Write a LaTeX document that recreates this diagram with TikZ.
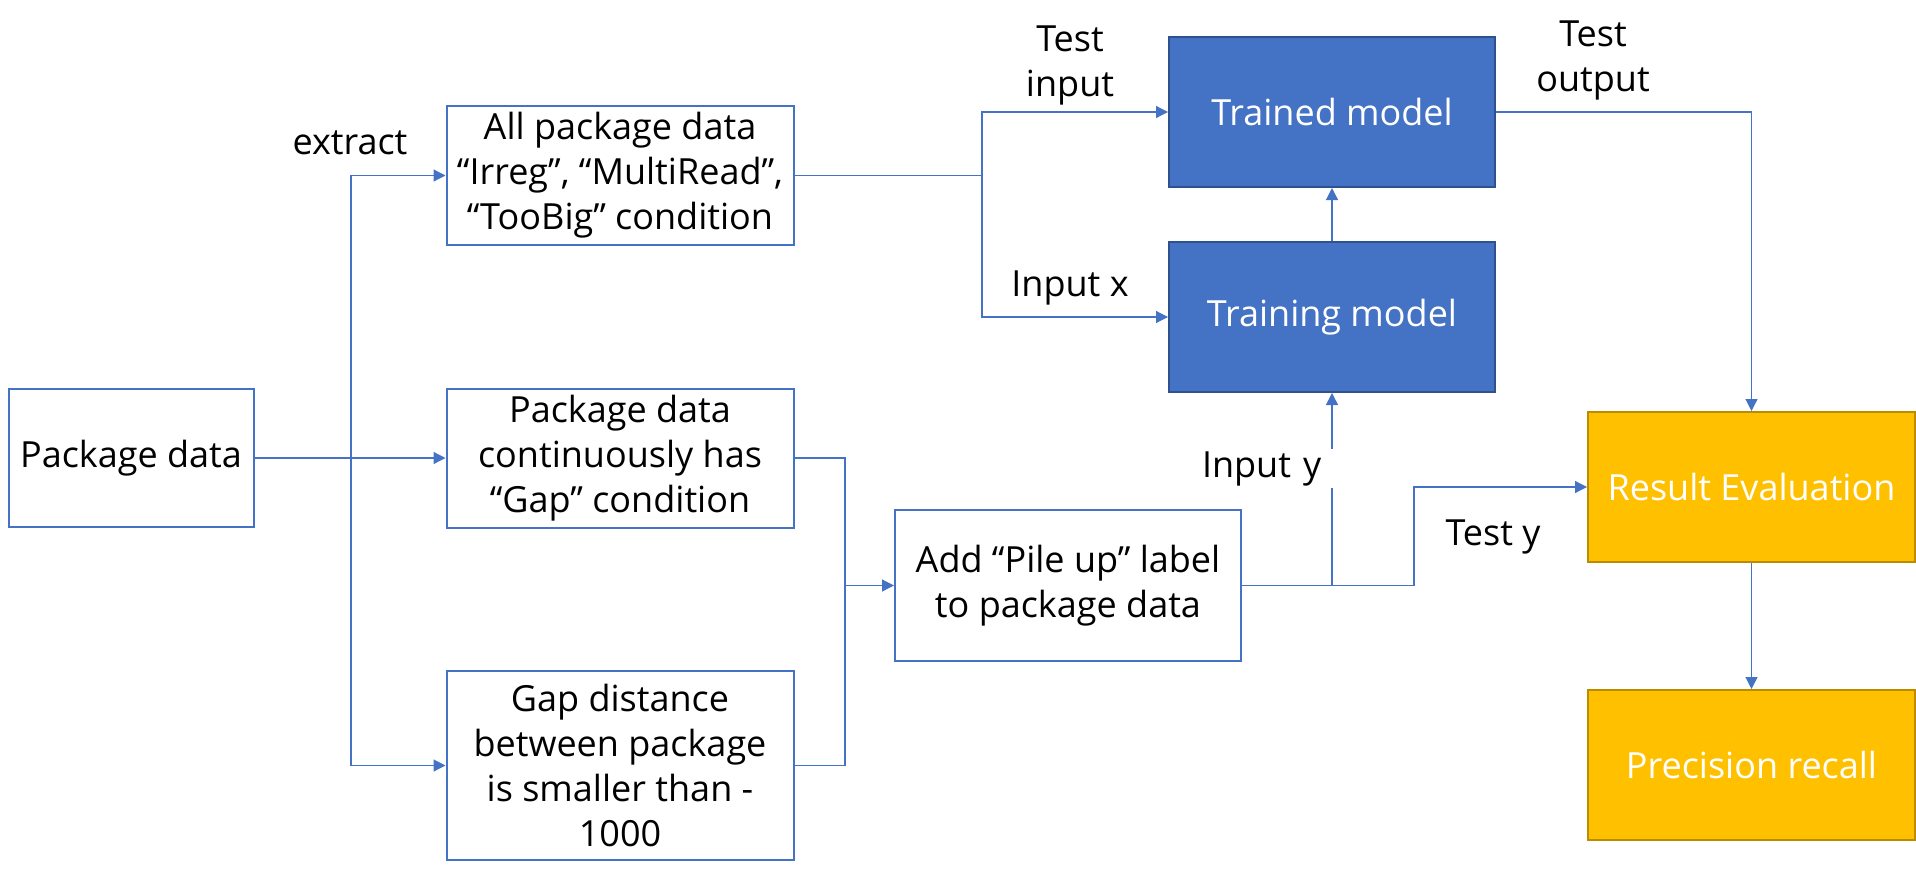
\documentclass[tikz,border=0pt]{standalone}
\usepackage{fontspec}
\setmainfont{Open Sans}
\usetikzlibrary{arrows.meta}
\definecolor{ablue}{HTML}{4472C4}
\definecolor{dblue}{HTML}{2F528F}
\definecolor{ayel}{HTML}{FFC000}
\definecolor{dyel}{HTML}{BC8C00}
\begin{document}
\begin{tikzpicture}[x=0.5pt,y=-0.5pt,
  txt/.style={font=\fontsize{18pt}{22.5pt}\selectfont},
  basebox/.style={txt, line width=1pt, align=center, inner sep=0pt},
  wbox/.style={basebox, draw=ablue, fill=white},
  bbox/.style={basebox, draw=dblue, fill=ablue, text=white},
  ybox/.style={basebox, draw=dyel, fill=ayel, text=white},
  conn/.style={draw=ablue, line width=0.6pt},
  arr/.style={conn, -{Triangle[length=6pt,width=6pt]}},
  lbl/.style={txt, inner sep=0pt, align=center}]
\useasboundingbox (0,0) rectangle (1916,878);

\node[wbox, minimum width=122.5pt, minimum height=69pt] (pkg) at (131,458) {Package data};
\node[wbox, minimum width=173.5pt, minimum height=69.5pt] (all) at (620,175.5) {All package data\\“Irreg”, “MultiRead”,\\“TooBig” condition};
\node[wbox, minimum width=173.5pt, minimum height=69.5pt] (cont) at (620,458) {Package data\\continuously has\\“Gap” condition};
\node[wbox, minimum width=173.5pt, minimum height=94.5pt] (gapd) at (620,765.5) {Gap distance\\between package\\is smaller than -\\1000};
\node[wbox, minimum width=173pt, minimum height=75.5pt] (add) at (1068,585.5) {Add “Pile up” label\\to package data};
\node[bbox, minimum width=163pt, minimum height=75pt] (trained) at (1332,112) {Trained model};
\node[bbox, minimum width=163pt, minimum height=75pt] (training) at (1332,317) {Training model};
\node[ybox, minimum width=163.5pt, minimum height=75pt] (result) at (1751.5,487) {Result Evaluation};
\node[ybox, minimum width=163.5pt, minimum height=75pt] (prec) at (1751.5,765) {Precision recall};

\coordinate (ex) at (351,0);
\coordinate (sp) at (982,0);
\coordinate (mg) at (845,0);
\coordinate (tj) at (1414,0);

\draw[arr] (pkg.east) -- (cont.west);
\draw[arr] (pkg.east -| ex) |- (all.west);
\draw[arr] (pkg.east -| ex) |- (gapd.west);
\draw[conn] (all.east) -- (all.east -| sp);
\draw[arr] (all.east -| sp) |- (trained.west);
\draw[arr] (all.east -| sp) |- (training.west);
\draw[arr] (training.north) -- (trained.south);
\draw[arr] (trained.east) -| (result.north);
\draw[arr] (cont.east) -| (mg |- add.west) -- (add.west);
\draw[conn] (gapd.east) -| (mg |- add.west);
\draw[arr] (add.east) -| (training.south);
\draw[arr] (add.east) -- (add.east -| tj) |- (result.west);
\draw[arr] (result.south) -- (prec.north);

\node[lbl] (lext) at (350,143) {extract};
\node[lbl] (ltin) at (1070,65) {Test\\input};
\node[lbl] (lix) at (1070,288) {Input x};
\node[lbl] (lto) at (1593,60) {Test\\output};
\node[lbl, fill=white, text width=67pt, align=left, minimum height=19.5pt, inner xsep=2pt] (liy) at (1269,468.5) {Input y};
\node[lbl] (lty) at (1493,537) {Test y};
\end{tikzpicture}
\end{document}
